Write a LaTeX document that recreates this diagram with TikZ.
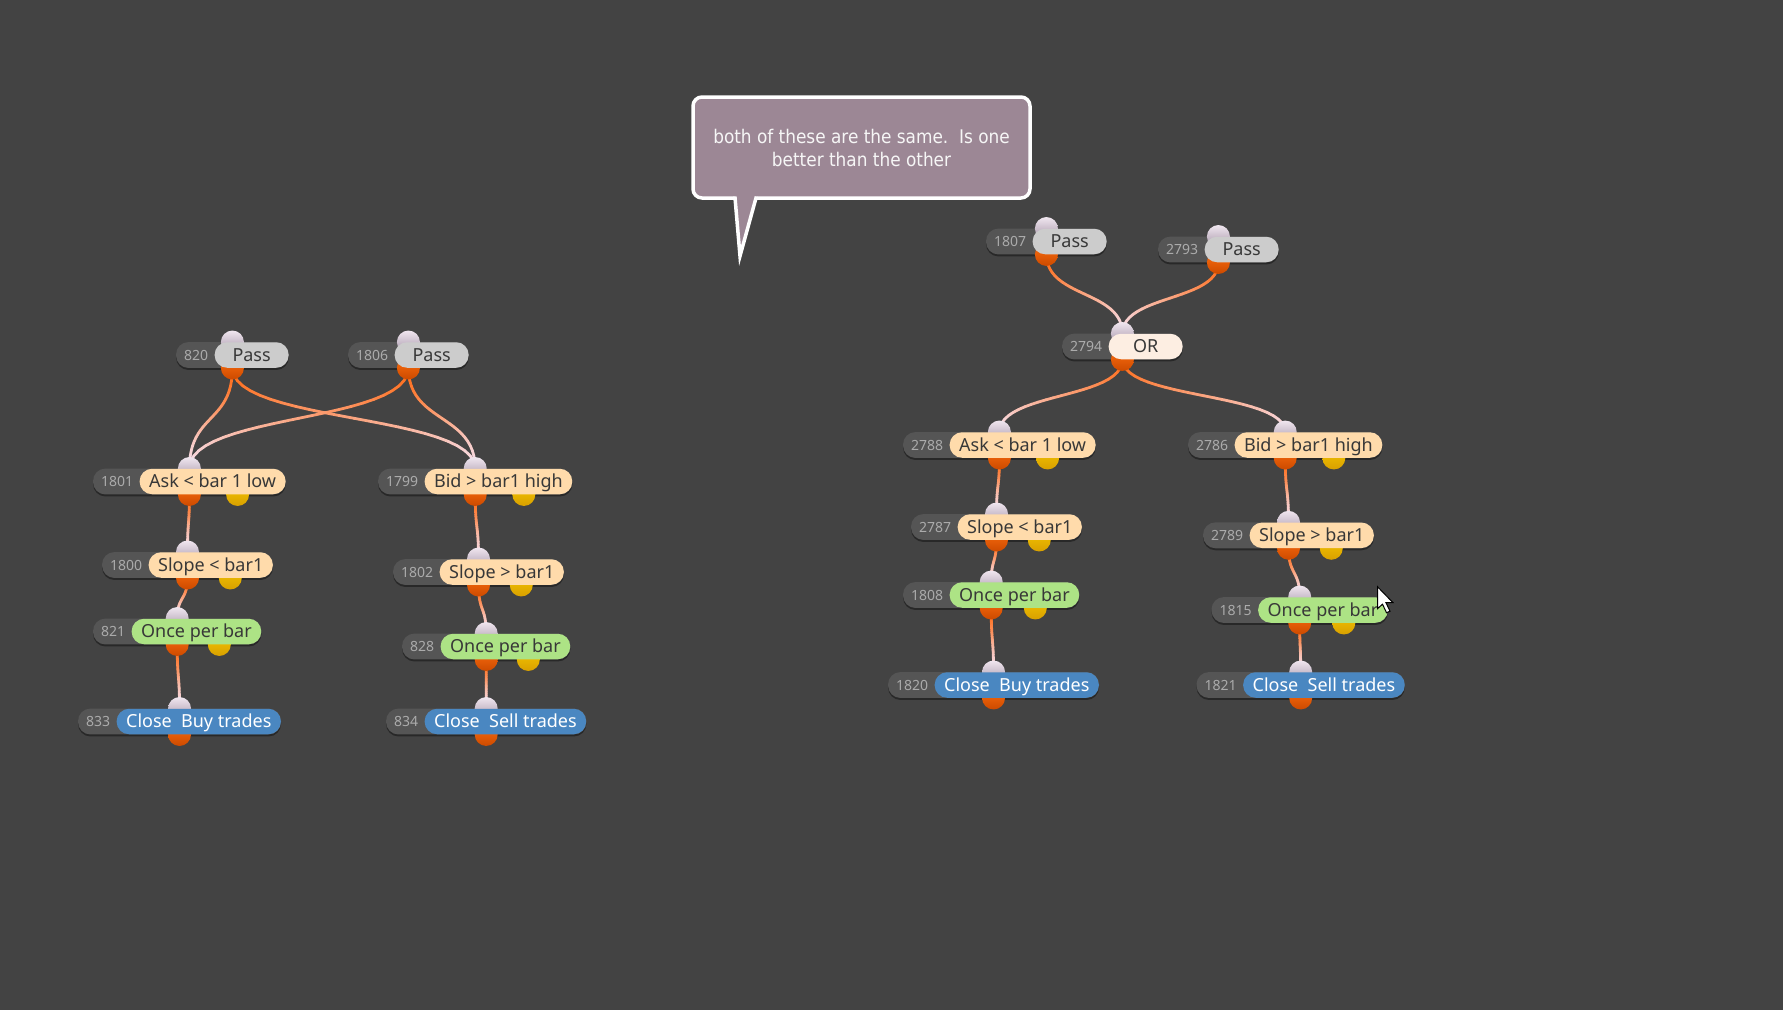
\documentclass[tikz,border=0pt]{standalone}
\usepackage{fontspec}
\setmainfont{Noto Sans}
\newfontfamily\notefont{DejaVu Sans Condensed}
\usetikzlibrary{calc,shadows}

\definecolor{canvasbg}{HTML}{434343}
\definecolor{numfill}{HTML}{555555}
\definecolor{numgray}{HTML}{ABABAB}
\definecolor{darktext}{HTML}{383838}
\definecolor{passfill}{HTML}{CCCCCC}
\definecolor{orfill}{HTML}{FDEEE2}
\definecolor{condfill}{HTML}{FFDBAB}
\definecolor{oncefill}{HTML}{ADE385}
\definecolor{closefill}{HTML}{4A87C1}
\definecolor{inporttop}{HTML}{F0E6EF}
\definecolor{inportbot}{HTML}{A595A8}
\definecolor{outporttop}{HTML}{FF7010}
\definecolor{outportbot}{HTML}{CC4A00}
\definecolor{sideporttop}{HTML}{F7C800}
\definecolor{sideportbot}{HTML}{D8A000}
\definecolor{wirestart}{HTML}{FF6A14}
\definecolor{wireend}{HTML}{F6DDE8}
\definecolor{bubblefill}{HTML}{9C8795}
\definecolor{bubbletext}{HTML}{F6F6F6}

\pgfdeclarelayer{bg}
\pgfdeclarelayer{wires}
\pgfdeclarelayer{pills}
\pgfsetlayers{bg,wires,pills,main}

\tikzset{
	numtext/.style={
		inner xsep=8pt,
		inner ysep=0pt,
		text height=10pt,
		text depth=0pt,
		text=numgray,
		font=\fontsize{14}{16}\selectfont
	},
	pill/.style={
		rounded corners=12.5pt,
		minimum height=25.5pt,
		minimum width=74pt,
		inner xsep=9.5pt,
		inner ysep=0pt,
		text height=15.4pt,
		text depth=2.5pt,
		font=\fontsize{18}{20}\selectfont
	},
	passpill/.style={pill, fill=passfill, text=darktext},
	orpill/.style={pill, fill=orfill, text=darktext},
	condpill/.style={pill, fill=condfill, text=darktext},
	oncepill/.style={pill, fill=oncefill, text=darktext},
	closepill/.style={pill, fill=closefill, text=white},
	numpill/.style={fill=numfill, rounded corners=12.5pt,
		drop shadow={shadow xshift=0pt, shadow yshift=-2pt, opacity=0.4, fill=black}},
	inport/.style={top color=inporttop, bottom color=inportbot},
	outport/.style={top color=outporttop, bottom color=outportbot},
	sideport/.style={top color=sideporttop, bottom color=sideportbot},
	wire/.style={line width=2.8pt, line cap=round},
	bubble/.style={
		fill=bubblefill,
		draw=white,
		line width=3.5pt,
		rounded corners=9pt,
		minimum width=337pt,
		minimum height=101pt,
		align=center,
		text=bubbletext,
		font=\notefont\fontsize{18.8}{23}\selectfont
	},
	cursorshape/.style={fill=white, draw=black, line width=1pt}
}

% node: name, left end, number, label, style
\newcommand{\flownode}[5]{%
	\node[numtext, anchor=west] (#1num) at (#2) {#3};
	\node[#5, anchor=west, xshift=-2pt] (#1) at (#1num.east) {#4};
	\coordinate (#1in) at ($(#1num.west |- #1.north)!0.5!(#1.north east)$);
	\coordinate (#1out) at ($(#1num.west |- #1.south)!0.5!(#1.south east)$);
	\begin{pgfonlayer}{pills}
		\fill[numpill] (#1num.west |- #1.north) rectangle (#1.south east);
		\shade[inport] (#1in) circle[radius=11.5pt];
		\shade[outport] (#1out) circle[radius=11.5pt];
	\end{pgfonlayer}
}
% second output
\newcommand{\sideport}[1]{%
	\begin{pgfonlayer}{pills}
		\shade[sideport] ($(#1num.west |- #1.south)!0.75!(#1.south east)$) circle[radius=11.5pt];
	\end{pgfonlayer}
}
% curved link, orange at the source, pale at the target
\newcommand{\wire}[2]{%
	\path (#1) .. controls ($(#1)!0.55!(#1 |- #2)$) and ($(#2)!0.55!(#2 |- #1)$) .. (#2)
		foreach \k in {0,...,24} {coordinate[pos=\k/24] (w\k)};
	\begin{pgfonlayer}{wires}
		\foreach \k [evaluate=\k as \j using int(\k+1), evaluate=\k as \m using int(round(\k*100/23))] in {0,...,23}
			{\draw[wire, draw=wireend!\m!wirestart] (w\k) -- (w\j);}
	\end{pgfonlayer}
}

\begin{document}
\begin{tikzpicture}[x=1pt, y=-1pt]

	\begin{pgfonlayer}{bg}
		\fill[canvasbg] (0,0) rectangle (1783,1010);
	\end{pgfonlayer}
	\useasboundingbox (0,0) rectangle (1783,1010);

	% Left group
	\flownode{lpassa}{176,355}{820}{Pass}{passpill}
	\flownode{lpassb}{348,355}{1806}{Pass}{passpill}
	\flownode{lask}{93,481.5}{1801}{Ask < bar 1 low}{condpill}
	\sideport{lask}
	\flownode{lbid}{378,481.5}{1799}{Bid > bar1 high}{condpill}
	\sideport{lbid}
	\flownode{lslopebuy}{102,565}{1800}{Slope < bar1}{condpill}
	\sideport{lslopebuy}
	\flownode{lslopesell}{393,572}{1802}{Slope > bar1}{condpill}
	\sideport{lslopesell}
	\flownode{loncebuy}{93,631.5}{821}{Once per bar}{oncepill}
	\sideport{loncebuy}
	\flownode{loncesell}{402,646.5}{828}{Once per bar}{oncepill}
	\sideport{loncesell}
	\flownode{lclosebuy}{78,721.5}{833}{Close\ \ Buy trades}{closepill}
	\flownode{lclosesell}{386,721.5}{834}{Close\ \ Sell trades}{closepill}

	% Right group
	\flownode{rpassa}{986,241.5}{1807}{Pass}{passpill}
	\flownode{rpassb}{1158,249.5}{2793}{Pass}{passpill}
	\flownode{ror}{1062,346.5}{2794}{OR}{orpill}
	\flownode{rask}{903,445}{2788}{Ask < bar 1 low}{condpill}
	\sideport{rask}
	\flownode{rbid}{1188,445}{2786}{Bid > bar1 high}{condpill}
	\sideport{rbid}
	\flownode{rslopebuy}{911,527}{2787}{Slope < bar1}{condpill}
	\sideport{rslopebuy}
	\flownode{rslopesell}{1203,535.3}{2789}{Slope > bar1}{condpill}
	\sideport{rslopesell}
	\flownode{roncebuy}{903,595}{1808}{Once per bar}{oncepill}
	\sideport{roncebuy}
	\flownode{roncesell}{1211.5,610}{1815}{Once per bar}{oncepill}
	\sideport{roncesell}
	\flownode{rclosebuy}{888,685}{1820}{Close\ \ Buy trades}{closepill}
	\flownode{rclosesell}{1196.5,685}{1821}{Close\ \ Sell trades}{closepill}

	% Links, left
	\wire{lpassaout}{laskin}
	\wire{lpassaout}{lbidin}
	\wire{lpassbout}{laskin}
	\wire{lpassbout}{lbidin}
	\wire{laskout}{lslopebuyin}
	\wire{lslopebuyout}{loncebuyin}
	\wire{loncebuyout}{lclosebuyin}
	\wire{lbidout}{lslopesellin}
	\wire{lslopesellout}{loncesellin}
	\wire{loncesellout}{lclosesellin}

	% Links, right
	\wire{rpassaout}{rorin}
	\wire{rpassbout}{rorin}
	\wire{rorout}{raskin}
	\wire{rorout}{rbidin}
	\wire{raskout}{rslopebuyin}
	\wire{rslopebuyout}{roncebuyin}
	\wire{roncebuyout}{rclosebuyin}
	\wire{rbidout}{rslopesellin}
	\wire{rslopesellout}{roncesellin}
	\wire{roncesellout}{rclosesellin}

	% Comment bubble
	\node[bubble] (note) at (861.5,147.5) {both of these are the same.\ \ Is one\\better than the other};
	\fill[bubblefill] (734.7,194) -- (740,256) -- (757.1,194) -- cycle;
	\draw[white, line width=3.5pt] (734.9,196.5) -- (740,256) -- (756.4,196.5);

	% Mouse pointer
	\draw[cursorshape] (1377.5,586.7) -- ++(0,22) -- ++(5,-4.5) -- ++(4,8.5) -- ++(3.5,-1.5)
		-- ++(-4,-8.5) -- ++(7,0) -- cycle;

\end{tikzpicture}
\end{document}
